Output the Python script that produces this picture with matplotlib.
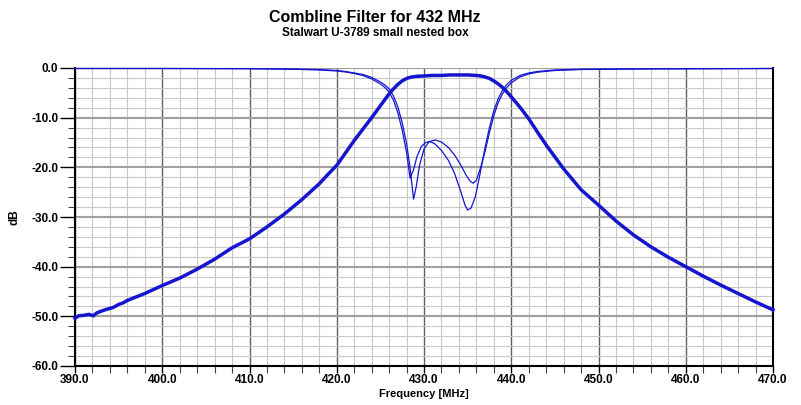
import numpy as np
import matplotlib
matplotlib.use('Agg')
import matplotlib.pyplot as plt
from matplotlib.ticker import MultipleLocator, FormatStrFormatter

plt.rcParams['font.family'] = ['Liberation Sans', 'DejaVu Sans']
plt.rcParams['font.weight'] = 'bold'

# S21 (transmission)
freq_s21 = [390.0, 390.4, 391.0, 391.6, 392.1, 392.5, 393.1, 393.6, 394.4, 395.0,
            395.5, 396.0, 397.0, 398.0, 399.0, 400.0, 402.0, 404.0, 406.0, 408.0,
            410.0, 412.0, 414.0, 416.0, 418.0, 419.0, 420.0, 421.0, 422.0, 423.0,
            424.0, 425.0, 425.5, 426.0, 426.5, 427.0, 427.5, 428.0, 428.5, 429.0,
            430.0, 431.0, 432.0, 433.0, 434.0, 435.0, 436.0, 436.5, 437.0, 437.5,
            438.0, 438.5, 439.0, 439.5, 440.0, 441.0, 442.0, 443.0,
            444.0, 445.0, 446.0, 448.0, 450.0, 452.0, 454.0, 456.0, 458.0, 460.0,
            462.0, 464.0, 466.0, 468.0, 470.0]
db_s21 = [-50.4, -49.9, -49.8, -49.6, -49.9, -49.3, -48.9, -48.6, -48.2, -47.6,
          -47.3, -46.8, -46.1, -45.4, -44.6, -43.8, -42.3, -40.5, -38.5, -36.2,
          -34.4, -32.0, -29.4, -26.5, -23.3, -21.4, -19.6, -17.1, -14.6, -12.3,
          -10.0, -7.6, -6.4, -5.2, -4.2, -3.3, -2.6, -2.1, -1.85, -1.7,
          -1.6, -1.5, -1.5, -1.4, -1.4, -1.4, -1.5, -1.6, -1.8, -2.1,
          -2.6, -3.2, -3.9, -4.8, -5.8, -7.9, -10.2, -12.9,
          -15.5, -17.9, -20.3, -24.5, -27.6, -30.8, -33.6, -36.0, -38.1, -40.0,
          -41.9, -43.7, -45.4, -47.1, -48.7]

# S11 (return loss), first tuning
freq_s11a = [390.0, 400.0, 410.0, 415.0, 418.0, 420.0, 421.0, 422.0, 423.0, 424.0,
             425.0, 425.5, 426.0, 426.5, 427.0, 427.5, 428.0, 428.4, 428.8, 429.2,
             429.7, 430.2, 430.6, 431.2, 432.0, 432.8, 433.5, 434.2, 434.7, 435.0,
             435.4, 435.9, 436.4, 437.0, 437.5, 438.0, 438.5, 439.0, 439.5, 440.0,
             441.0, 442.0, 443.0, 445.0, 448.0, 455.0, 470.0]
db_s11a = [-0.1, -0.1, -0.15, -0.25, -0.4, -0.6, -0.8, -1.1, -1.5, -2.2,
           -3.2, -3.9, -4.8, -6.5, -9.0, -12.5, -17.0, -22.2, -20.5, -17.8,
           -15.8, -15.0, -14.8, -15.2, -16.6, -18.6, -21.2, -24.8, -27.6, -28.6,
           -28.2, -25.8, -21.5, -16.0, -12.0, -8.6, -6.2, -4.5, -3.3, -2.5,
           -1.5, -1.0, -0.7, -0.4, -0.25, -0.15, -0.1]

# S11, second tuning
freq_s11b = [390.0, 400.0, 410.0, 415.0, 418.0, 420.0, 421.0, 422.0, 423.0, 424.0,
             425.0, 425.5, 426.0, 426.5, 427.0, 427.5, 428.0, 428.4, 428.8, 429.1,
             429.5, 430.0, 430.6, 431.3, 432.0, 432.8, 433.5, 434.2, 434.8, 435.3,
             435.65, 436.0, 436.5, 437.0, 437.5, 438.0, 438.5, 439.0, 439.5, 440.0,
             441.0, 442.0, 443.0, 445.0, 448.0, 455.0, 470.0]
db_s11b = [-0.1, -0.1, -0.12, -0.2, -0.3, -0.5, -0.7, -1.0, -1.3, -1.9,
           -2.8, -3.4, -4.2, -5.6, -7.8, -11.0, -15.2, -20.0, -26.4, -24.0,
           -19.5, -16.3, -14.8, -14.5, -14.9, -16.0, -17.5, -19.5, -21.5, -22.8,
           -23.2, -22.6, -20.0, -16.8, -13.0, -9.6, -7.0, -5.2, -3.9, -3.0,
           -1.8, -1.2, -0.85, -0.5, -0.3, -0.2, -0.1]

blue = '#1515d0'

fig = plt.figure(figsize=(8.01, 4.05), dpi=100)
ax = fig.add_axes([75 / 801, 1 - 366 / 405, 698 / 801, 298 / 405])

ax.plot(freq_s11a, db_s11a, color=blue, lw=0.9, clip_on=False, zorder=3)
ax.plot(freq_s11b, db_s11b, color=blue, lw=0.9, clip_on=False, zorder=3)
ax.plot(freq_s21, db_s21, color=blue, lw=2.5, clip_on=False, zorder=4,
        solid_joinstyle='round')

ax.set_xlim(390, 470)
ax.set_ylim(-60, 0)
ax.xaxis.set_major_locator(MultipleLocator(10))
ax.xaxis.set_minor_locator(MultipleLocator(2))
ax.yaxis.set_major_locator(MultipleLocator(10))
ax.yaxis.set_minor_locator(MultipleLocator(2))
ax.xaxis.set_major_formatter(FormatStrFormatter('%.1f'))
ax.yaxis.set_major_formatter(FormatStrFormatter('%.1f'))

# grid
ax.grid(which='minor', color='#c8c8c8', lw=0.8)
ax.grid(which='major', axis='x', color='#606060', lw=1.0)
ax.grid(which='major', axis='y', color='#a0a0a0', lw=1.5)
ax.set_axisbelow(True)

ax.tick_params(which='major', axis='y', length=11, width=1, pad=1, labelsize=8.5)
ax.tick_params(which='major', axis='x', length=5, width=1, pad=1, labelsize=8.5)
ax.tick_params(which='minor', length=5, width=0.8, color='#404040')
for lab in ax.get_xticklabels() + ax.get_yticklabels():
    lab.set_fontweight('bold')

for side in ['left', 'bottom', 'right']:
    ax.spines[side].set_linewidth(1.5)
    ax.spines[side].set_color('black')
ax.spines['top'].set_visible(False)

ax.set_xlabel('Frequency [MHz]', fontsize=8, fontweight='bold', labelpad=2)
ax.set_ylabel('dB', fontsize=8.5, fontweight='bold', labelpad=8)

fig.text(375 / 801, 1 - 18 / 405, 'Combline Filter for 432 MHz', ha='center', va='center',
         fontsize=11.5, fontweight='bold')
fig.text(375 / 801, 1 - 33 / 405, 'Stalwart U-3789 small nested box', ha='center', va='center',
         fontsize=8.5, fontweight='bold')

fig.savefig('out.png', dpi=100)
